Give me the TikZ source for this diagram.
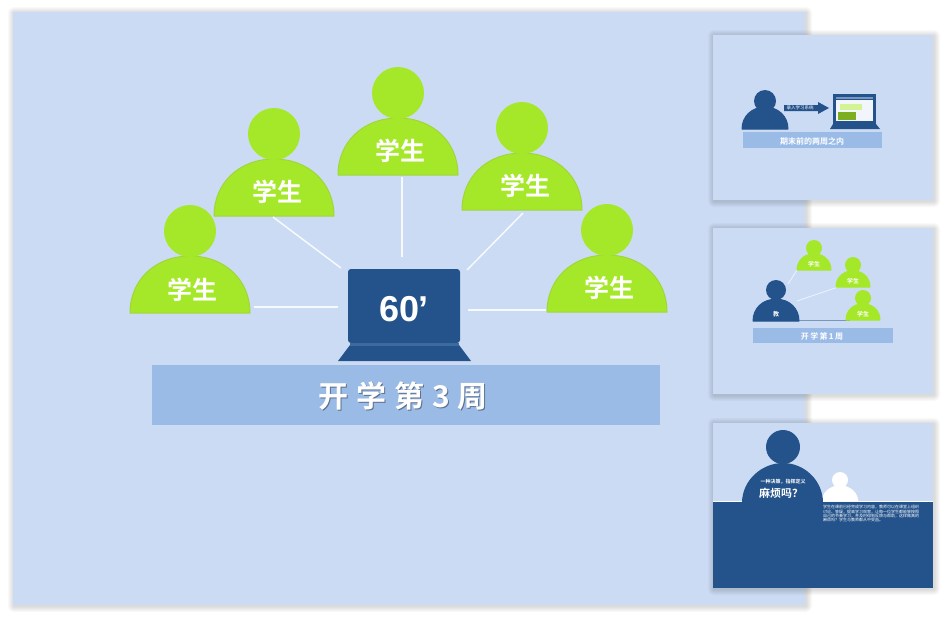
\documentclass[tikz,border=0pt]{standalone}
\usepackage{fontspec}
\newfontfamily\cjk{Noto Sans CJK SC}[BoldFont={Noto Sans CJK SC Bold}]
\setmainfont{Liberation Sans}
\usetikzlibrary{calc,arrows.meta}
\definecolor{bgblue}{HTML}{CBDBF3}
\definecolor{bandblue}{HTML}{9BBBE7}
\definecolor{navy}{HTML}{24538B}
\definecolor{navylight}{HTML}{3F6A9F}
\definecolor{limeg}{HTML}{A5E829}
\definecolor{limed}{HTML}{A0D63C}
\tikzset{
  x=1pt,y=-1pt,
  conn/.style={draw=white!85!bgblue,line width=1.5pt},
  connthin/.style={draw=white!70!bgblue,line width=0.8pt},
  banner/.style={fill=bandblue,draw=none},
  biglab/.style={text=white,font=\cjk\bfseries\fontsize{25}{25}\selectfont,inner sep=0pt},
  tinylab/.style={inner sep=0pt,text=white,font=\cjk\bfseries\fontsize{6}{6}\selectfont},
}
% #1 name, #2 x centre, #3 bottom y, #4 half width, #5 head radius, #6 head centre y, #7 fill, #8 edge
\newcommand{\personshape}[8]{%
  \filldraw[fill=#7,draw=#8,line width=1pt,line join=round] (#2-#4,#3) -- (#2+#4,#3) .. controls (#2+#4,#3-#4*0.55) and (#2+#4*0.58,#3-#4*0.95) .. (#2,#3-#4*0.95) .. controls (#2-#4*0.58,#3-#4*0.95) and (#2-#4,#3-#4*0.55) .. (#2-#4,#3) -- cycle;
  \fill[#7] (#2,#6) circle[radius=#5];
  \coordinate (#1) at (#2,#3-#4*0.4);
}
\newcommand{\softshadow}[4]{%
  \foreach \s in {6,5,4,3,2,1}{
    \fill[black,opacity=0.022,rounded corners=\s pt] (#1-\s+1,#2-\s+1) rectangle (#3+\s+1,#4+\s+1);
  }
}
\begin{document}
\begin{tikzpicture}
\useasboundingbox (0,0) rectangle (947,619);
\fill[white] (0,0) rectangle (947,619);
% main slide
\softshadow{13}{12}{805}{605}
\fill[bgblue] (13,12) rectangle (805,605);
% persons
\personshape{p1}{190}{313}{60}{26}{231}{limeg}{limed}
\personshape{p2}{274}{216}{60}{26}{134}{limeg}{limed}
\personshape{p3}{398}{175}{60}{26}{93}{limeg}{limed}
\personshape{p4}{522}{210}{60}{26}{128}{limeg}{limed}
\personshape{p5}{607}{312}{60}{26}{230}{limeg}{limed}
\node[biglab] (t1) at (192,290) {学生};
\node[biglab] (t2) at (277,192) {学生};
\node[biglab] (t3) at (400,151) {学生};
\node[biglab] (t4) at (525,186) {学生};
\node[biglab] (t5) at (609,288) {学生};
% laptop
\fill[navy] (350,345) -- (459,345) -- (471,361) -- (338,361) -- cycle;
\fill[navy,rounded corners=3pt] (348,269) -- (460,269) -- (460,343) -- (348,343) -- cycle;
\fill[navylight] (350,343) rectangle (459,346);
\node[inner sep=0pt,text=white,font=\bfseries\fontsize{36}{36}\selectfont] (lap) at (404,309) {60\kern-1pt’};
% connectors
\coordinate (a1) at (254,307); \coordinate (b1) at (338,307);
\coordinate (a2) at (273,217); \coordinate (b2) at (341,268);
\coordinate (a3) at (402,177); \coordinate (b3) at (402,257);
\coordinate (a4) at (523,213); \coordinate (b4) at (467,270);
\coordinate (a5) at (546,310); \coordinate (b5) at (468,310);
\foreach \i in {1,...,5}{\draw[conn] (a\i) -- (b\i);}
% banner
\fill[banner] (152,365) rectangle (660,425);
\node[inner sep=0pt,text=black!40!bandblue,font=\cjk\bfseries\fontsize{30}{30}\selectfont] at (404,397) {开\hspace{8pt}学\hspace{8pt}第\hspace{8pt}3\hspace{8pt}周};
\node[inner sep=0pt,text=white,font=\cjk\bfseries\fontsize{30}{30}\selectfont] (bt) at (403,396) {开\hspace{8pt}学\hspace{8pt}第\hspace{8pt}3\hspace{8pt}周};
% thumbnail 1
\softshadow{713}{35}{933}{200}
\fill[bgblue] (713,35) rectangle (933,200);
\personshape{q1}{765}{129}{23}{11}{101}{navy}{navy}
\fill[banner] (743,132) rectangle (882,148);
\node[inner sep=0pt,text=white,font=\cjk\bfseries\fontsize{8}{8}\selectfont] (q1t) at (812,141) {期末前的两周之内};
\fill[navy] (784,105) -- (818,105) -- (818,102) -- (829,108) -- (818,114) -- (818,111) -- (784,111) -- cycle;
\node[inner sep=0pt,text=white,font=\cjk\fontsize{4.5}{4.5}\selectfont] (q1a) at (800,108) {录入学习系统};
\fill[navy] (833,94) rectangle (876,124);
\fill[navy] (833,124) -- (876,124) -- (880,129) -- (830,129) -- cycle;
\fill[white!75!bgblue] (836,100) rectangle (873,121);
\fill[limeg!75!black] (838,112) rectangle (856,120);
\fill[limeg!50!white] (840,104) rectangle (862,110);
\fill[navylight!60!bgblue] (836,97) rectangle (873,99);
% thumbnail 2
\softshadow{713}{228}{933}{394}
\fill[bgblue] (713,228) rectangle (933,394);
\draw[connthin] (788,284) -- (797,270);
\draw[connthin] (797,301) -- (838,287);
\draw[draw=navy!50!bgblue,line width=0.8pt] (798,320) -- (850,320);
\personshape{r1}{776}{321}{23}{10}{290}{navy}{navy}
\personshape{r2}{814}{270}{17}{8}{248}{limeg}{limeg}
\personshape{r3}{853}{287}{17}{8}{265}{limeg}{limeg}
\personshape{r4}{863}{320}{17}{8}{298}{limeg}{limeg}
\node[tinylab] (r1t) at (776,314) {教};
\node[tinylab] (r2t) at (814,264) {学生};
\node[tinylab] (r3t) at (853,281) {学生};
\node[tinylab] (r4t) at (863,314) {学生};
\fill[banner] (753,328) rectangle (893,343);
\node[inner sep=0pt,text=white,font=\cjk\bfseries\fontsize{8}{8}\selectfont] (r5t) at (822,336) {开\,学\,第\,1\,周};
% thumbnail 3
\softshadow{713}{423}{933}{588}
\fill[bgblue] (713,423) rectangle (933,502);
\personshape{s2}{840}{503}{18}{8}{480}{white}{white}
\fill[white!90!bgblue] (713,501) rectangle (933,503);
\fill[navy] (713,502) rectangle (933,588);
\fill[navy] (783,447) circle[radius=17];
\fill[navy] (742,503) .. controls (742,480) and (762,463) .. (783,463) .. controls (804,463) and (823,480) .. (823,503) -- cycle;
\node[inner sep=0pt,text=white,font=\cjk\bfseries\fontsize{5}{5}\selectfont] (s1t) at (783,482) {一种决策，指挥定义};
\node[inner sep=0pt,text=white,font=\cjk\bfseries\fontsize{11}{11}\selectfont] (s3t) at (781,493) {麻烦吗？};
\node[inner sep=0pt,text=white,anchor=north west,align=left,font=\cjk\fontsize{4}{4.4}\selectfont] (s4t) at (823,505) {学生在课前已经完成学习内容，教师可以在课堂上组织\\讨论、答疑，提高学习效率，让每一位学生都能够按照\\自己的节奏学习，并及时得到反馈与帮助，这样做真的\\麻烦吗？学生与教师都从中受益。};
\end{tikzpicture}
\end{document}
